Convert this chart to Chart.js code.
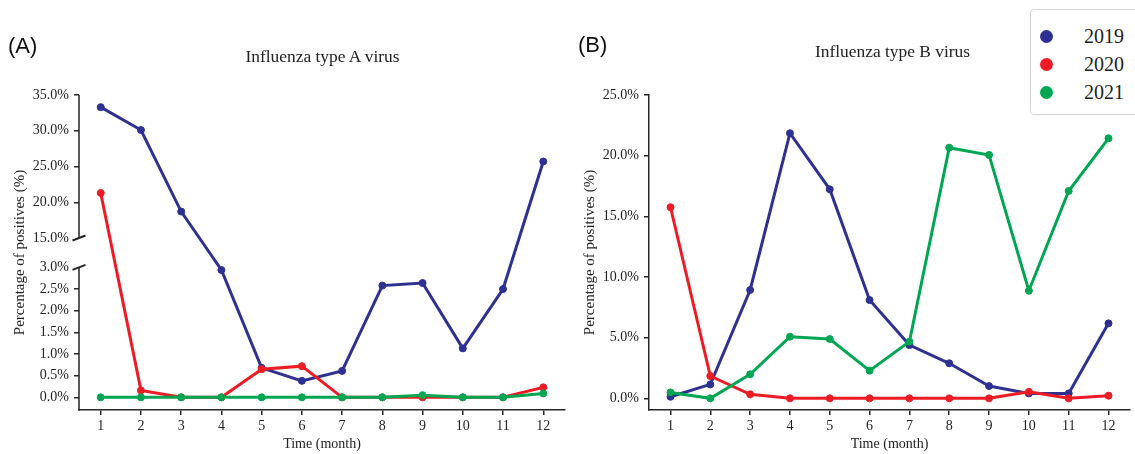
<!DOCTYPE html>
<html>
<head>
<meta charset="utf-8">
<script src="https://cdn.jsdelivr.net/npm/chart.js@4.4.0/dist/chart.umd.min.js"></script>
<style>
  html, body { margin:0; padding:0; background:#fff; overflow:hidden; }
  body { width:1135px; height:454px; position:relative; }
  .abs { position:absolute; white-space:nowrap; line-height:1; }
  .ttl { font-family:"Liberation Serif", "Times New Roman", serif; font-size:17.4px; color:#222; transform:translate(-50%,-50%); }
  .pl { font-family:"Liberation Sans", Arial, sans-serif; font-size:22px; color:#111; transform:translate(0,-50%); }
  #legend { position:absolute; left:1030px; top:9px; width:120px; height:104px; border:1.5px solid #d4d4d4; border-radius:4px; background:#fff; }
  .li { position:absolute; left:0; font-family:"Liberation Serif", "Times New Roman", serif; font-size:20px; color:#222; }
  .dot { position:absolute; width:13px; height:13px; border-radius:50%; }
</style>
</head>
<body>
<canvas id="cA" class="abs" style="left:0;top:0;" width="570" height="454"></canvas>
<canvas id="cB" class="abs" style="left:570px;top:0;" width="565" height="454"></canvas>
<div class="abs pl" style="left:8px;top:46px;">(A)</div>
<div class="abs pl" style="left:578px;top:45px;">(B)</div>
<div class="abs ttl" style="left:322.5px;top:57px;">Influenza type A virus</div>
<div class="abs ttl" style="left:892.5px;top:52px;">Influenza type B virus</div>
<div id="legend"></div>
<script>
// ---------- data ----------
const months = [1,2,3,4,5,6,7,8,9,10,11,12];
const seriesNames = ['2019','2020','2021'];
const seriesColors = ['#2e3192','#ed1c24','#00a651'];

// Influenza type A (% positives)
const fluA2019 = [33.3, 30.1, 18.7, 2.94, 0.68, 0.38, 0.61, 2.58, 2.64, 1.13, 2.50, 25.7];
const fluA2020 = [21.3, 0.16, 0, 0, 0.65, 0.72, 0, 0, 0, 0, 0, 0.23];
const fluA2021 = [0, 0, 0, 0, 0, 0, 0, 0, 0.05, 0, 0, 0.09];

// Influenza type B (% positives)
const fluB2019 = [0.13, 1.15, 8.93, 21.85, 17.23, 8.10, 4.39, 2.89, 1.01, 0.41, 0.41, 6.18];
const fluB2020 = [15.75, 1.84, 0.33, 0, 0, 0, 0, 0, 0, 0.54, 0, 0.22];
const fluB2021 = [0.49, 0, 1.98, 5.08, 4.89, 2.28, 4.67, 20.66, 20.06, 8.87, 17.09, 21.43];

// tick labels
const yTicksA = [0, 0.5, 1.0, 1.5, 2.0, 2.5, 3.0, 15, 20, 25, 30, 35];
const yTicksB = [0, 5, 10, 15, 20, 25];

// ---------- broken axis mapping for panel A ----------
const LOW_TOP = 3, HIGH_BOTTOM = 15, HIGH_START = 3.679, HIGH_FACTOR = 0.16515;
function toD(v) { return v <= LOW_TOP ? v : HIGH_START + (v - HIGH_BOTTOM) * HIGH_FACTOR; }

const FONT = "'Liberation Serif', 'Times New Roman', serif";
const AXIS = '#262626';
const TXT = '#222';

function makeDatasets(arrs, mapFn) {
  return arrs.map((arr, i) => ({
    label: seriesNames[i],
    data: months.map((m, j) => ({ x: m, y: mapFn(arr[j]) })),
    borderColor: seriesColors[i],
    backgroundColor: seriesColors[i],
    pointBackgroundColor: seriesColors[i],
    pointBorderColor: seriesColors[i],
    borderWidth: 3,
    pointRadius: 3.5,
    pointBorderWidth: 1,
    tension: 0,
    order: 2 - i
  }));
}

function xScale() {
  return {
    type: 'linear', min: 0.46, max: 12.54,
    afterBuildTicks: s => { s.ticks = months.map(v => ({ value: v })); },
    afterFit: s => { s.height = 44; },
    ticks: { callback: v => String(v), font: { family: FONT, size: 14 }, color: TXT, padding: 3, maxRotation: 0, autoSkip: false },
    grid: { drawOnChartArea: false, drawTicks: true, tickLength: 5, tickColor: AXIS, lineWidth: 1.5, tickWidth: 1.5 },
    border: { display: true, color: AXIS, width: 1.5 },
    title: { display: true, text: 'Time (month)', font: { family: FONT, size: 14 }, color: TXT, padding: { top: 0, bottom: 1 } }
  };
}

function yTitle() {
  return { display: true, text: 'Percentage of positives (%)', font: { family: FONT, size: 15 }, color: TXT, padding: { top: 11, bottom: 0 } };
}

// plugin to draw broken y axis for A
const brokenAxis = {
  id: 'brokenAxis',
  afterDraw(chart) {
    const y = chart.scales.y, ca = chart.chartArea, ctx = chart.ctx;
    const x0 = ca.left;
    const yBreakHi = y.getPixelForValue(toD(HIGH_BOTTOM));
    const yBreakLo = y.getPixelForValue(toD(LOW_TOP));
    ctx.save();
    ctx.strokeStyle = AXIS; ctx.lineWidth = 1.5; ctx.lineCap = 'butt';
    ctx.beginPath();
    ctx.moveTo(x0, ca.top); ctx.lineTo(x0, yBreakHi);
    ctx.moveTo(x0, yBreakLo); ctx.lineTo(x0, ca.bottom + 0.75);
    ctx.stroke();
    ctx.lineWidth = 2;
    [yBreakHi, yBreakLo].forEach(py => {
      ctx.beginPath();
      ctx.moveTo(x0 - 6.5, py + 2.5);
      ctx.lineTo(x0 + 6.5, py - 2.5);
      ctx.stroke();
    });
    ctx.restore();
  }
};

new Chart(document.getElementById('cA'), {
  type: 'line',
  data: { datasets: makeDatasets([fluA2019, fluA2020, fluA2021], toD) },
  options: {
    responsive: false, animation: false,
    layout: { padding: { left: 0, top: 95, right: 5, bottom: 0 } },
    plugins: { legend: { display: false }, tooltip: { enabled: false } },
    scales: {
      x: xScale(),
      y: {
        type: 'linear', min: -0.293, max: 6.982,
        afterBuildTicks: s => { s.ticks = yTicksA.map(v => ({ value: toD(v) })); },
        afterFit: s => { s.width = 79; },
        ticks: { callback: (v, i) => yTicksA[i].toFixed(1) + '%', font: { family: FONT, size: 14 }, color: TXT, padding: 5, autoSkip: false },
        grid: { drawOnChartArea: false, drawTicks: true, tickLength: 5, lineWidth: 1.5, tickWidth: 1.5,
                tickColor: c => (c.tick && (Math.abs(c.tick.value - toD(15)) < 1e-6 || Math.abs(c.tick.value - toD(3)) < 1e-6)) ? 'rgba(0,0,0,0)' : AXIS },
        border: { display: false },
        title: yTitle()
      }
    }
  },
  plugins: [brokenAxis]
});

new Chart(document.getElementById('cB'), {
  type: 'line',
  data: { datasets: makeDatasets([fluB2019, fluB2020, fluB2021], v => v) },
  options: {
    responsive: false, animation: false,
    layout: { padding: { left: 0, top: 95, right: 0, bottom: 0 } },
    plugins: { legend: { display: false }, tooltip: { enabled: false } },
    scales: {
      x: xScale(),
      y: {
        type: 'linear', min: -0.96, max: 25,
        afterBuildTicks: s => { s.ticks = yTicksB.map(v => ({ value: v })); },
        afterFit: s => { s.width = 79; },
        ticks: { callback: v => v.toFixed(1) + '%', font: { family: FONT, size: 14 }, color: TXT, padding: 5, autoSkip: false },
        grid: { drawOnChartArea: false, drawTicks: true, tickLength: 5, tickColor: AXIS, lineWidth: 1.5, tickWidth: 1.5 },
        border: { display: true, color: AXIS, width: 1.5 },
        title: yTitle()
      }
    }
  }
});

// legend
const lg = document.getElementById('legend');
const legendY = [26, 54, 82];
seriesNames.forEach((n, i) => {
  const d = document.createElement('div');
  d.className = 'dot';
  d.style.left = '9px'; d.style.top = (legendY[i] - 6.5) + 'px';
  d.style.background = seriesColors[i];
  lg.appendChild(d);
  const t = document.createElement('div');
  t.className = 'li abs';
  t.style.left = '53px'; t.style.top = (legendY[i] - 10) + 'px';
  t.textContent = n;
  lg.appendChild(t);
});
</script>
</body>
</html>
